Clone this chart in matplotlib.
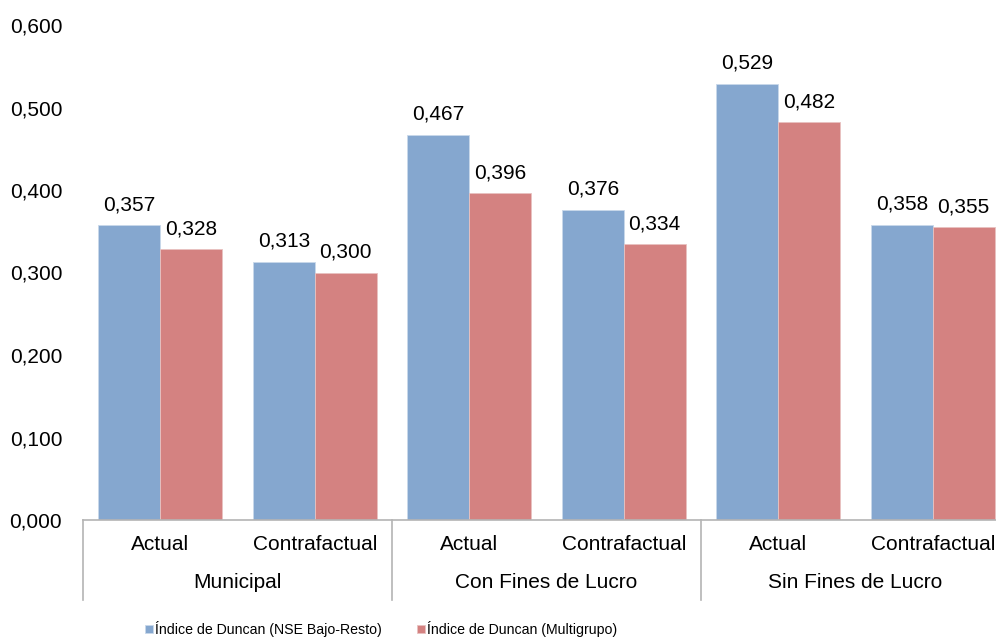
import numpy as np
import matplotlib.pyplot as plt
from matplotlib import font_manager

plt.rcParams['font.family'] = ['Liberation Sans', 'DejaVu Sans']

# Data
categories = ['Actual', 'Contrafactual', 'Actual', 'Contrafactual', 'Actual', 'Contrafactual']
groups = ['Municipal', 'Con Fines de Lucro', 'Sin Fines de Lucro']
duncan_bajo_resto = [0.357, 0.313, 0.467, 0.376, 0.529, 0.358]
duncan_multigrupo = [0.328, 0.300, 0.396, 0.334, 0.482, 0.355]
series_names = ['Índice de Duncan (NSE Bajo-Resto)', 'Índice de Duncan (Multigrupo)']
yticks = [0.0, 0.1, 0.2, 0.3, 0.4, 0.5, 0.6]

blue = '#85A7CF'
red = '#D48281'
axis_gray = '#B4B4B4'
fs = 15

# narrow face for the legend if one is installed
installed = {f.name for f in font_manager.fontManager.ttflist}
if 'Liberation Sans Narrow' in installed:
    legend_prop = {'family': ['Liberation Sans Narrow', 'DejaVu Sans'], 'size': 12.5}
else:
    legend_prop = {'family': ['Liberation Sans', 'DejaVu Sans'], 'size': 10.2}

fig = plt.figure(figsize=(9.96, 6.4), dpi=100)
ax = fig.add_axes([83 / 996, 120 / 640, 927 / 996, 495 / 640])

x = np.arange(len(categories)) + 0.5
w = 0.4
b1 = ax.bar(x - w / 2, duncan_bajo_resto, w, color=blue, edgecolor='#C9D8EA', linewidth=0.6,
            label=series_names[0])
b2 = ax.bar(x + w / 2, duncan_multigrupo, w, color=red, edgecolor='#E8C2C1', linewidth=0.6,
            label=series_names[1])

def fmt(v):
    return f'{v:.3f}'.replace('.', ',')

for bars, vals in [(b1, duncan_bajo_resto), (b2, duncan_multigrupo)]:
    for rect, v in zip(bars, vals):
        ax.annotate(fmt(v), (rect.get_x() + rect.get_width() / 2, v),
                    xytext=(0, 8), textcoords='offset points',
                    ha='center', va='bottom', fontsize=fs, color='black')

ax.set_xlim(0, 6)
ax.set_ylim(0, 0.6)
ax.set_yticks(yticks)
ax.set_yticklabels([fmt(t) for t in yticks], fontsize=fs)
ax.tick_params(axis='y', length=0, pad=15)
ax.set_xticks([])

for s in ['top', 'right', 'left']:
    ax.spines[s].set_visible(False)
ax.spines['bottom'].set_color(axis_gray)
ax.spines['bottom'].set_linewidth(1.2)

# Two-level category axis
tr = ax.get_xaxis_transform()
for xi, cat in zip(x, categories):
    ax.text(xi, -0.0505, cat, transform=tr, ha='center', va='center', fontsize=fs)
for i, g in enumerate(groups):
    ax.text(2 * i + 1, -0.127, g, transform=tr, ha='center', va='center', fontsize=fs)
for xs in [0, 2, 4, 6]:
    ax.plot([xs, xs], [0, -0.1616], transform=tr, color=axis_gray, linewidth=1.2, clip_on=False)

leg = fig.legend(handles=[b1, b2], loc='center', bbox_to_anchor=(381 / 996, 1 - 629 / 640),
                 ncol=2, frameon=False, handlelength=0.55, handleheight=0.55,
                 handletextpad=0.15, columnspacing=2.5, borderaxespad=0,
                 prop=legend_prop)

fig.savefig('out.png', dpi=100)
